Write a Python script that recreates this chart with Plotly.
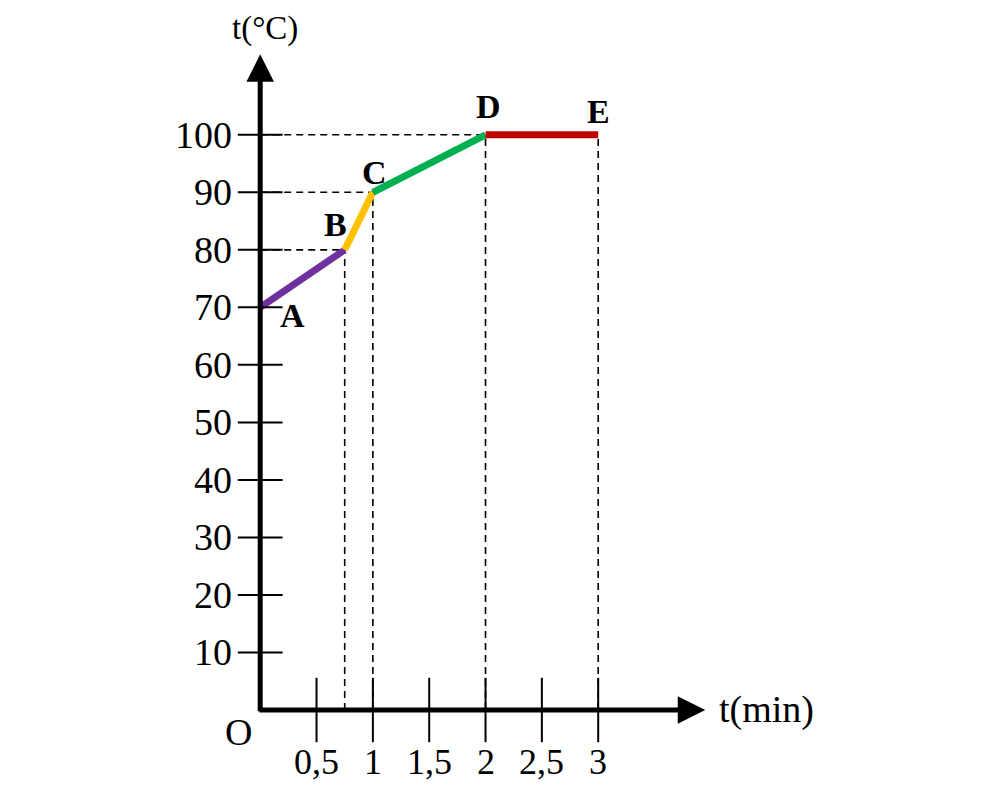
import plotly.graph_objects as go

# Data
t_points = [0, 0.75, 1, 2, 3]
temp_points = [70, 80, 90, 100, 100]
point_labels = ["A", "B", "C", "D", "E"]
segment_colors = ["#7030A0", "#FFC000", "#00B050", "#C00000"]
label_shift_x = [32, -9, 2, 3, 0]
label_shift_y = [-8, 25, 20, 28, 23]

y_ticks = [10, 20, 30, 40, 50, 60, 70, 80, 90, 100]
y_tick_labels = ["10", "20", "30", "40", "50", "60", "70", "80", "90", "100"]
x_ticks = [0.5, 1, 1.5, 2, 2.5, 3]
x_tick_labels = ["0,5", "1", "1,5", "2", "2,5", "3"]

FONT = "Liberation Serif, Times New Roman, serif"

fig = go.Figure()

# Dashed guide lines
dash_style = dict(color="black", width=1.6, dash="7px,5px")
for i in range(1, len(t_points)):
    tx, ty = t_points[i], temp_points[i]
    fig.add_trace(go.Scatter(x=[tx, tx], y=[0, ty], mode="lines", line=dash_style,
                             hoverinfo="skip", showlegend=False))
    if i < len(t_points) - 1:
        fig.add_trace(go.Scatter(x=[0, tx], y=[ty, ty], mode="lines", line=dash_style,
                                 hoverinfo="skip", showlegend=False))

# Colored segments
for i in range(len(t_points) - 1):
    fig.add_trace(go.Scatter(x=t_points[i:i + 2], y=temp_points[i:i + 2], mode="lines",
                             line=dict(color=segment_colors[i], width=7),
                             hoverinfo="skip", showlegend=False))

# Tick marks crossing the axes
fig.add_trace(go.Scatter(x=[0] * len(y_ticks), y=y_ticks, mode="markers",
                         marker=dict(symbol="line-ew", size=32, line=dict(color="black", width=2)),
                         hoverinfo="skip", showlegend=False))
fig.add_trace(go.Scatter(x=x_ticks, y=[0] * len(x_ticks), mode="markers",
                         marker=dict(symbol="line-ns", size=46, line=dict(color="black", width=2)),
                         hoverinfo="skip", showlegend=False))

annotations = []
# Axes arrows
annotations.append(dict(x=0, y=114, ax=0, ay=-0.5, xref="x", yref="y", axref="x", ayref="y",
                        showarrow=True, arrowhead=2, arrowsize=1.1, arrowwidth=5,
                        arrowcolor="black", text=""))
annotations.append(dict(x=3.95, y=0, ax=-0.02, ay=0, xref="x", yref="y", axref="x", ayref="y",
                        showarrow=True, arrowhead=2, arrowsize=1.1, arrowwidth=5,
                        arrowcolor="black", text=""))

# Y tick labels
for v, lab in zip(y_ticks, y_tick_labels):
    annotations.append(dict(x=0, y=v, xref="x", yref="y", text=lab, showarrow=False,
                            xanchor="right", yanchor="middle", xshift=-26,
                            font=dict(family=FONT, size=38, color="black")))
# X tick labels
for v, lab in zip(x_ticks, x_tick_labels):
    annotations.append(dict(x=v, y=0, xref="x", yref="y", text=lab, showarrow=False,
                            xanchor="center", yanchor="middle", yshift=-52,
                            font=dict(family=FONT, size=36, color="black")))

# Point labels
for tx, ty, lab, sx, sy in zip(t_points, temp_points, point_labels, label_shift_x, label_shift_y):
    annotations.append(dict(x=tx, y=ty, xref="x", yref="y", text="<b>" + lab + "</b>",
                            showarrow=False, xanchor="center", yanchor="middle",
                            xshift=sx, yshift=sy,
                            font=dict(family=FONT, size=34, color="black")))

# Origin and axis titles
annotations.append(dict(x=0, y=0, xref="x", yref="y", text="O", showarrow=False,
                        xanchor="center", yanchor="middle", xshift=-22, yshift=-22,
                        font=dict(family=FONT, size=38, color="black")))
annotations.append(dict(x=0, y=114, xref="x", yref="y", text="t(°C)", showarrow=False,
                        xanchor="center", yanchor="middle", xshift=5, yshift=26,
                        font=dict(family=FONT, size=33, color="black")))
annotations.append(dict(x=3.95, y=0, xref="x", yref="y", text="t(min)", showarrow=False,
                        xanchor="left", yanchor="middle", xshift=12, yshift=0,
                        font=dict(family=FONT, size=38, color="black")))

fig.update_layout(
    width=984, height=777,
    margin=dict(l=117, r=191, t=6, b=6),
    paper_bgcolor="white", plot_bgcolor="white",
    xaxis=dict(range=[-1.2, 4.8], showgrid=False, zeroline=False, showticklabels=False,
               showline=False, ticks="", fixedrange=True),
    yaxis=dict(range=[-12, 121], showgrid=False, zeroline=False, showticklabels=False,
               showline=False, ticks="", fixedrange=True),
    annotations=annotations,
    showlegend=False,
)

fig.write_html("out.html")
